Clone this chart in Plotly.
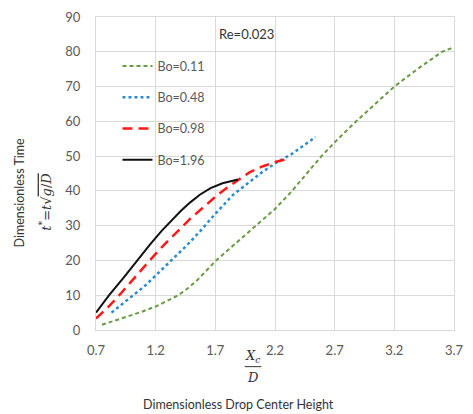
import plotly.graph_objects as go

# Bo = 0.11 (green dashed)
x_bo011 = [0.75, 0.85, 0.96, 1.08, 1.21, 1.30, 1.39, 1.47, 1.55, 1.62, 1.70, 1.79, 1.88, 1.97, 2.05, 2.13, 2.20, 2.33, 2.46, 2.59, 2.73, 2.88, 3.04, 3.20, 3.40, 3.60, 3.70]
y_bo011 = [1.5, 2.6, 3.8, 5.2, 6.9, 8.4, 10.0, 12.0, 14.4, 16.9, 19.8, 22.5, 25.2, 27.8, 30.2, 32.6, 34.8, 39.5, 44.8, 50.0, 55.0, 60.0, 65.0, 70.0, 75.2, 80.0, 81.3]

# Bo = 0.48 (blue dotted)
x_bo048 = [0.83, 0.92, 1.02, 1.10, 1.18, 1.26, 1.33, 1.46, 1.575, 1.71, 1.85, 1.99, 2.10, 2.22, 2.34, 2.54]
y_bo048 = [5.0, 7.4, 10.0, 12.4, 15.0, 17.6, 20.0, 24.3, 28.5, 33.8, 38.9, 42.7, 45.6, 48.3, 50.6, 55.5]

# Bo = 0.98 (red dashed)
x_bo098 = [0.70, 0.80, 0.895, 1.02, 1.15, 1.27, 1.385, 1.49, 1.61, 1.71, 1.80, 1.90, 1.99, 2.10, 2.20, 2.32]
y_bo098 = [3.3, 6.5, 10.0, 15.0, 20.0, 24.5, 28.5, 32.0, 35.6, 38.6, 41.0, 43.3, 45.4, 47.1, 48.3, 49.3]

# Bo = 1.96 (black solid)
x_bo196 = [0.70, 0.81, 0.93, 1.045, 1.15, 1.25, 1.33, 1.41, 1.49, 1.57, 1.66, 1.76, 1.89]
y_bo196 = [5.0, 10.0, 15.0, 20.0, 24.5, 28.5, 31.5, 34.2, 36.7, 38.9, 40.8, 42.2, 43.3]

x_ticks = [0.7, 1.2, 1.7, 2.2, 2.7, 3.2, 3.7]
y_ticks = [0, 10, 20, 30, 40, 50, 60, 70, 80, 90]

FONT = "Lato"
GRAY = "#595959"
GRID = "#d9d9d9"

fig = go.Figure()
series = [
    ("Bo=0.11", x_bo011, y_bo011, "#6a9a45", "4px,3px", 2),
    ("Bo=0.48", x_bo048, y_bo048, "#2a8bd0", "dot", 2.5),
    ("Bo=0.98", x_bo098, y_bo098, "#ff1a1a", "10px,6px", 2.5),
    ("Bo=1.96", x_bo196, y_bo196, "#111111", "solid", 2),
]
for i, (name, xs, ys, col, dash, w) in enumerate(series):
    fig.add_trace(go.Scatter(
        x=xs, y=ys, mode="lines", name=name, legendgroup=f"g{i}",
        line=dict(color=col, dash=dash, width=w),
    ))

fig.update_layout(
    width=473, height=414,
    margin=dict(l=96, r=9, t=14, b=84),
    paper_bgcolor="white", plot_bgcolor="white",
    font=dict(family=FONT, size=12, color=GRAY),
    legend=dict(
        x=0.06, y=0.89, xanchor="left", yanchor="top",
        bgcolor="rgba(0,0,0,0)", tracegroupgap=12,
        font=dict(family=FONT, size=12.5, color=GRAY),
        itemwidth=30,
    ),
    xaxis=dict(
        range=[0.7, 3.7], tickvals=x_ticks, ticktext=[f"{v:.1f}" for v in x_ticks],
        showgrid=True, gridcolor=GRID, gridwidth=1.3, zeroline=False,
        showline=True, mirror=True, linecolor=GRID, linewidth=1.3,
        ticks="", ticklabelstandoff=8, ticklabeloverflow="allow",
        tickfont=dict(family=FONT, size=13, color=GRAY),
    ),
    yaxis=dict(
        range=[0, 90], tickvals=y_ticks,
        showgrid=True, gridcolor=GRID, gridwidth=1.3, zeroline=False,
        showline=True, mirror=True, linecolor=GRID, linewidth=1.3,
        ticks="", ticklabelstandoff=12,
        tickfont=dict(family=FONT, size=13, color=GRAY),
    ),
)

ann = [
    dict(text="Re=0.023", xref="paper", yref="paper", x=(220 - 96) / 368, y=(330 - 31) / 316,
         xanchor="left", yanchor="middle", showarrow=False,
         font=dict(family=FONT, size=13, color="#333333")),
    dict(text="Dimensionless Drop Center Height", xref="paper", yref="paper",
         x=(242 - 96) / 368, y=(330 - 405) / 316, xanchor="center", yanchor="middle",
         showarrow=False, font=dict(family=FONT, size=12.5, color="#333333")),
    dict(text="Dimensionless Time", xref="paper", yref="paper",
         x=(17 - 96) / 368, y=(330 - 191) / 316, xanchor="center", yanchor="middle",
         textangle=-90, showarrow=False, font=dict(family=FONT, size=12.5, color="#333333")),
    dict(text="<i>t</i><sup>*</sup>=<i>t</i>√<span style='text-decoration:overline'><i>g</i>/<i>D</i></span>",
         xref="paper", yref="paper",
         x=(44 - 96) / 368, y=(330 - 200) / 316, xanchor="center", yanchor="middle",
         textangle=-90, showarrow=False, font=dict(family="DejaVu Serif", size=13, color="#333333")),
    dict(text="<i>X<sub>c</sub></i>", xref="paper", yref="paper",
         x=(257 - 96) / 368, y=(330 - 357) / 316, xanchor="center", yanchor="middle",
         showarrow=False, font=dict(family="DejaVu Serif", size=13, color="#333333")),
    dict(text="<i>D</i>", xref="paper", yref="paper",
         x=(257 - 96) / 368, y=(330 - 378) / 316, xanchor="center", yanchor="middle",
         showarrow=False, font=dict(family="DejaVu Serif", size=13, color="#333333")),
]
fig.update_layout(annotations=ann)
fig.add_shape(type="line", xref="paper", yref="paper",
              x0=(249 - 96) / 368, x1=(266 - 96) / 368,
              y0=(330 - 367) / 316, y1=(330 - 367) / 316,
              line=dict(color="#333333", width=1))

fig.write_html("out.html", config={"displayModeBar": False},
               post_script="document.body.style.margin='0';")
